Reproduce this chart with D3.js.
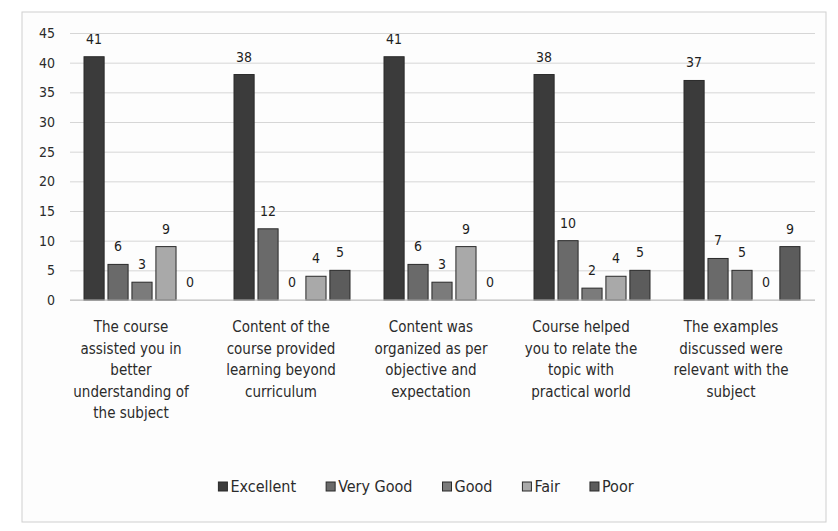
<!DOCTYPE html>
<html>
<head>
<meta charset="utf-8">
<script src="https://cdn.jsdelivr.net/npm/d3@7"></script>
<style>
  body { margin: 0; background: #ffffff; }
  svg text { font-family: "DejaVu Sans Condensed", "Liberation Sans", sans-serif; fill: #2b2b2b; }
</style>
</head>
<body>
<div id="chart"></div>
<script>
// categories (x axis)
var categories = [
  ["The course", "assisted you in", "better", "understanding of", "the subject"],
  ["Content of the", "course provided", "learning beyond", "curriculum"],
  ["Content was", "organized as per", "objective and", "expectation"],
  ["Course helped", "you to relate the", "topic with", "practical world"],
  ["The examples", "discussed were", "relevant with the", "subject"]
];
var seriesNames = ["Excellent", "Very Good", "Good", "Fair", "Poor"];
var seriesColors = ["#3b3b3b", "#6a6a6a", "#7b7b7b", "#a9a9a9", "#5c5c5c"];

// values per series, one per category
var excellent = [41, 38, 41, 38, 37];
var veryGood  = [6, 12, 6, 10, 7];
var good      = [3, 0, 3, 2, 5];
var fair      = [9, 4, 9, 4, 0];
var poor      = [0, 5, 0, 5, 9];

var yTicks = [0, 5, 10, 15, 20, 25, 30, 35, 40, 45];

function init() {
  var W = 838, H = 531;
  var series = [excellent, veryGood, good, fair, poor];

  var svg = d3.select("#chart").append("svg")
    .attr("width", W)
    .attr("height", H);

  // chart frame
  svg.append("rect")
    .attr("x", 22).attr("y", 12)
    .attr("width", 804).attr("height", 510)
    .attr("fill", "#fdfdfd")
    .attr("stroke", "#cfcfcf");

  var x0 = d3.scaleBand()
    .domain(d3.range(categories.length))
    .range([66, 816])
    .padding(0);

  var x1 = d3.scaleBand()
    .domain(d3.range(seriesNames.length))
    .range([18, 134])
    .paddingInner(0.16);

  var y = d3.scaleLinear()
    .domain([0, 45])
    .range([300, 33]);

  // grid lines
  svg.append("g")
    .attr("transform", "translate(70,0)")
    .call(d3.axisLeft(y).tickValues(yTicks).tickSize(-745).tickFormat(""))
    .call(function(g) {
      g.select(".domain").remove();
      g.selectAll("line").attr("stroke", "#d6d6d6");
    });

  // y labels
  svg.append("g")
    .selectAll("text")
    .data(yTicks)
    .enter()
    .append("text")
    .attr("x", 55)
    .attr("y", function(d) { return y(d) + 5; })
    .attr("text-anchor", "end")
    .style("font-size", "14px")
    .text(function(d) { return d; });

  // bars
  var groups = svg.selectAll("g.group")
    .data(categories)
    .enter()
    .append("g")
    .attr("class", "group")
    .attr("transform", function(d, i) { return "translate(" + x0(i) + ",0)"; });

  groups.each(function(c, ci) {
    var g = d3.select(this);
    var vals = series.map(function(s, si) { return { si: si, v: s[ci] }; });

    g.selectAll("rect")
      .data(vals)
      .enter()
      .append("rect")
      .attr("x", function(d) { return x1(d.si); })
      .attr("y", function(d) { return y(d.v); })
      .attr("width", x1.bandwidth())
      .attr("height", function(d) { return y(0) - y(d.v); })
      .attr("fill", function(d) { return seriesColors[d.si]; })
      .attr("stroke", "#2a2a2a")
      .attr("stroke-width", 1);

    g.selectAll("text.val")
      .data(vals)
      .enter()
      .append("text")
      .attr("class", "val")
      .attr("x", function(d) { return x1(d.si) + x1.bandwidth() / 2; })
      .attr("y", function(d) { return y(d.v) - 13; })
      .attr("text-anchor", "middle")
      .style("font-size", "14px")
      .style("fill", "#1e1e1e")
      .text(function(d) { return d.v; });

    // category label
    var t = g.append("text")
      .attr("text-anchor", "middle")
      .style("font-size", "15px");
    t.selectAll("tspan")
      .data(c)
      .enter()
      .append("tspan")
      .attr("x", x0.bandwidth() / 2 - 10)
      .attr("y", function(d, i) { return 332 + i * 21.5; })
      .text(function(d) { return d; });
  });

  // baseline
  svg.append("line")
    .attr("x1", 70).attr("x2", 815)
    .attr("y1", y(0)).attr("y2", y(0))
    .attr("stroke", "#bdbdbd");

  // legend, laid out from measured text widths
  var legend = svg.append("g").attr("class", "legend");
  var gap = 30;
  var lx = 0;
  seriesNames.forEach(function(name, i) {
    var item = legend.append("g").attr("transform", "translate(" + lx + ",0)");
    item.append("rect")
      .attr("x", 0).attr("y", -10)
      .attr("width", 9).attr("height", 9)
      .attr("fill", seriesColors[i])
      .attr("stroke", "#2a2a2a");
    var txt = item.append("text")
      .attr("x", 12)
      .attr("y", 0)
      .style("font-size", "16px")
      .text(name);
    lx += 12 + txt.node().getComputedTextLength() + gap;
  });
  var legendW = lx - gap;
  legend.attr("transform", "translate(" + (426 - legendW / 2) + ",492)");
}

window.onload = init;
</script>
</body>
</html>
